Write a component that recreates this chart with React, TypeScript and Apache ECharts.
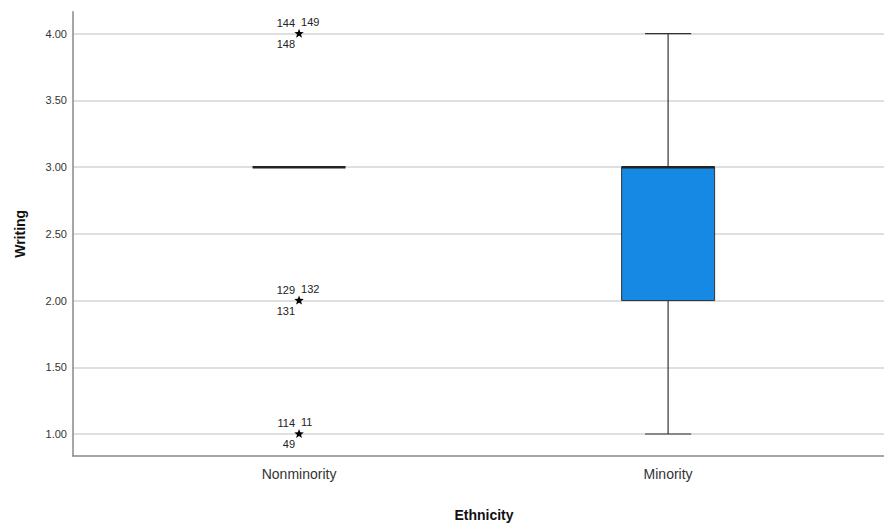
import React, { useEffect, useRef } from "react";
import * as echarts from "echarts";

const categories = ["Nonminority", "Minority"];
// [categoryIndex, min, q1, median, q3, max]
const boxStats = [
  [0, 3, 3, 3, 3, 3],
  [1, 1, 2, 3, 3, 4],
];
// [categoryIndex, value]
const outlierPoints = [
  [0, 4],
  [0, 2],
  [0, 1],
];
// case labels: [upper-left, upper-right, lower-left]
const outlierLabels = [
  ["144", "149", "148"],
  ["129", "132", "131"],
  ["114", "11", "49"],
];

const FONT = "Arial, 'Liberation Sans', sans-serif";

function starPoints(cx: number, cy: number, R: number, r: number) {
  const pts: number[][] = [];
  for (let i = 0; i < 10; i++) {
    const ang = -Math.PI / 2 + (i * Math.PI) / 5;
    const rad = i % 2 === 0 ? R : r;
    pts.push([cx + rad * Math.cos(ang), cy + rad * Math.sin(ang)]);
  }
  return pts;
}

export default function App() {
  const ref = useRef<HTMLDivElement>(null);
  useEffect(() => {
    if (!ref.current) return;
    const chart = echarts.init(ref.current, undefined, { renderer: "svg" });
    chart.setOption({
      animation: false,
      grid: { left: 73, right: 0, top: 11.7, height: 454.3, containLabel: false },
      xAxis: {
        type: "value",
        min: -0.6125,
        max: 1.585,
        name: "Ethnicity",
        nameLocation: "middle",
        nameGap: 52,
        nameTextStyle: {
          fontFamily: FONT,
          fontSize: 14,
          fontWeight: "bold",
          color: "#111",
          padding: [0, 0, 0, 11],
        },
        axisLine: { show: true, onZero: false, lineStyle: { color: "#888", width: 1.5 } },
        axisTick: { show: false },
        splitLine: { show: false },
        axisLabel: {
          showMinLabel: false,
          showMaxLabel: false,
          margin: 11,
          fontFamily: FONT,
          fontSize: 14,
          color: "#333",
          formatter: (v: number) => {
            const i = Math.round(v);
            return Math.abs(v - i) < 1e-6 && categories[i] ? categories[i] : "";
          },
        },
      },
      yAxis: {
        type: "value",
        min: 0.835,
        max: 4.165,
        name: "Writing",
        nameLocation: "middle",
        nameGap: 46,
        nameTextStyle: {
          fontFamily: FONT,
          fontSize: 14,
          fontWeight: "bold",
          color: "#111",
        },
        axisLine: { show: true, onZero: false, lineStyle: { color: "#888", width: 1.5 } },
        axisTick: { show: false },
        splitLine: {
          show: true,
          showMinLine: false,
          showMaxLine: false,
          lineStyle: { color: "#d4d4d4", width: 1.5 },
        },
        axisLabel: {
          showMinLabel: false,
          showMaxLabel: false,
          margin: 6,
          fontFamily: FONT,
          fontSize: 11,
          color: "#333",
          formatter: (v: number) => v.toFixed(2),
        },
      },
      series: [
        {
          type: "custom",
          data: boxStats,
          encode: { x: 0, y: [1, 2, 3, 4, 5] },
          renderItem: (params: any, api: any) => {
            const c = api.value(0);
            const mn = api.value(1);
            const q1 = api.value(2);
            const md = api.value(3);
            const q3 = api.value(4);
            const mx = api.value(5);
            const half = api.size([0.126, 0])[0];
            const capHalf = api.size([0.0625, 0])[0];
            const pMin = api.coord([c, mn]);
            const pQ1 = api.coord([c, q1]);
            const pMd = api.coord([c, md]);
            const pQ3 = api.coord([c, q3]);
            const pMx = api.coord([c, mx]);
            const x = pMd[0];
            const children: any[] = [];
            const lineStyle = { stroke: "#333", lineWidth: 1.2 };
            if (mx > q3) {
              children.push({ type: "line", shape: { x1: x, y1: pMx[1], x2: x, y2: pQ3[1] }, style: lineStyle });
              children.push({ type: "line", shape: { x1: x - capHalf, y1: pMx[1], x2: x + capHalf, y2: pMx[1] }, style: lineStyle });
            }
            if (mn < q1) {
              children.push({ type: "line", shape: { x1: x, y1: pQ1[1], x2: x, y2: pMin[1] }, style: lineStyle });
              children.push({ type: "line", shape: { x1: x - capHalf, y1: pMin[1], x2: x + capHalf, y2: pMin[1] }, style: lineStyle });
            }
            if (q3 > q1) {
              children.push({
                type: "rect",
                shape: { x: x - half, y: pQ3[1], width: 2 * half, height: pQ1[1] - pQ3[1] },
                style: { fill: "#1589e3", stroke: "#333", lineWidth: 1 },
              });
            }
            children.push({
              type: "line",
              shape: { x1: x - half, y1: pMd[1], x2: x + half, y2: pMd[1] },
              style: { stroke: "#222", lineWidth: 2.5 },
            });
            return { type: "group", children };
          },
          z: 3,
        },
        {
          type: "custom",
          data: outlierPoints,
          encode: { x: 0, y: 1 },
          renderItem: (params: any, api: any) => {
            const p = api.coord([api.value(0), api.value(1)]);
            const labels = outlierLabels[params.dataIndex];
            const ts = { fontFamily: FONT, fontSize: 11, fill: "#222" };
            return {
              type: "group",
              children: [
                { type: "polygon", shape: { points: starPoints(p[0], p[1], 5, 2.1) }, style: { fill: "#000" } },
                { type: "text", x: p[0] - 4, y: p[1] - 11, style: { ...ts, text: labels[0], align: "right", verticalAlign: "middle" } },
                { type: "text", x: p[0] + 2, y: p[1] - 12, style: { ...ts, text: labels[1], align: "left", verticalAlign: "middle" } },
                { type: "text", x: p[0] - 4, y: p[1] + 10, style: { ...ts, text: labels[2], align: "right", verticalAlign: "middle" } },
              ],
            };
          },
          z: 4,
        },
      ],
    });
    return () => chart.dispose();
  }, []);
  return (
    <div
      ref={ref}
      style={{ position: "fixed", left: 0, top: 0, width: 884, height: 527, background: "#fff" }}
    />
  );
}
